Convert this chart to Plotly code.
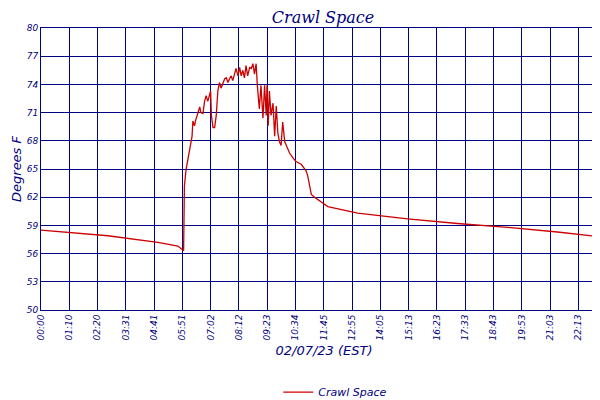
import plotly.graph_objects as go

# minutes since 00:00 and temperature (deg F)
minutes = [0, 166, 290, 340, 354, 355, 356, 360, 366, 371, 375, 377, 381, 384, 389, 394, 397,
           402, 406, 410, 414, 418, 421, 423, 427, 431, 435, 439, 443, 447, 451, 456, 460, 464,
           468, 472, 476, 480, 484, 489, 493, 497, 501, 505, 509, 513, 518, 522, 526, 530, 534,
           537, 540, 542, 546, 551, 555, 559, 561, 564, 567, 571, 576, 580, 584, 588, 592, 596,
           600, 605, 609, 617, 625, 633, 646, 658, 662, 667, 671, 679, 695, 712, 786, 910, 1034,
           1158, 1282, 1406]
temps = [58.5, 57.9, 57.2, 56.8, 56.3, 60.0, 63.2, 64.9, 66.3, 67.9, 68.5, 70.1, 69.6, 70.2,
         70.9, 71.6, 71.0, 70.9, 72.2, 72.8, 72.2, 72.8, 73.3, 70.7, 69.4, 69.4, 70.7, 73.3,
         74.2, 73.6, 74.1, 74.6, 74.7, 74.2, 74.6, 74.9, 74.4, 75.0, 75.7, 74.9, 75.8, 74.9,
         75.5, 74.7, 76.0, 74.9, 75.8, 75.7, 76.2, 75.1, 76.2, 73.9, 71.7, 71.4, 73.9, 70.4,
         73.9, 70.7, 73.9, 69.6, 73.3, 70.7, 72.0, 68.5, 71.7, 68.8, 67.9, 67.5, 70.0, 67.9,
         67.5, 66.7, 66.2, 65.8, 65.5, 64.8, 64.3, 63.1, 62.3, 62.0, 61.5, 61.0,
         60.3, 59.7, 59.2, 58.8, 58.3, 57.7]

tick_labels = ["00:00", "01:10", "02:20", "03:31", "04:41", "05:51", "07:02", "08:12", "09:23",
               "10:34", "11:45", "12:55", "14:05", "15:13", "16:23", "17:33", "18:43", "19:53",
               "21:03", "22:13", "23:24"]
tick_pos = [i * 1404 / 20 for i in range(len(tick_labels))]
y_ticks = [50, 53, 56, 59, 62, 65, 68, 71, 74, 77, 80]

navy = "#000080"
fig = go.Figure(go.Scatter(x=minutes, y=temps, mode="lines", name="Crawl Space",
                           line=dict(color="#cc0000", width=1.3)))
fig.update_layout(
    width=600, height=400,
    margin=dict(l=33, r=1, t=20, b=67),
    paper_bgcolor="white", plot_bgcolor="white",
    title=dict(text="Crawl Space", x=0.525, y=0.99, yanchor="top",
               font=dict(family="DejaVu Serif", size=16, color=navy, style="italic")),
    font=dict(family="DejaVu Sans", color=navy, style="italic"),
    showlegend=True,
    legend=dict(orientation="h", x=0.52, xanchor="center", y=-0.24, yanchor="top",
                font=dict(size=11, color=navy)),
)
fig.update_xaxes(range=[0, 1405], tickvals=tick_pos, ticktext=tick_labels, tickangle=-90,
                 tickfont=dict(size=9, color=navy), showgrid=True, gridcolor=navy,
                 showline=True, linecolor=navy, mirror=True, zeroline=False,
                 title=dict(text="02/07/23 (EST)", standoff=6, font=dict(size=13, color=navy)))
fig.update_yaxes(range=[50, 80], tickvals=y_ticks, tickfont=dict(size=9, color=navy),
                 showgrid=True, gridcolor=navy, showline=True, linecolor=navy, mirror=True,
                 zeroline=False, title=dict(text="Degrees F", standoff=2, font=dict(size=13, color=navy)))
fig.write_html("out.html")
